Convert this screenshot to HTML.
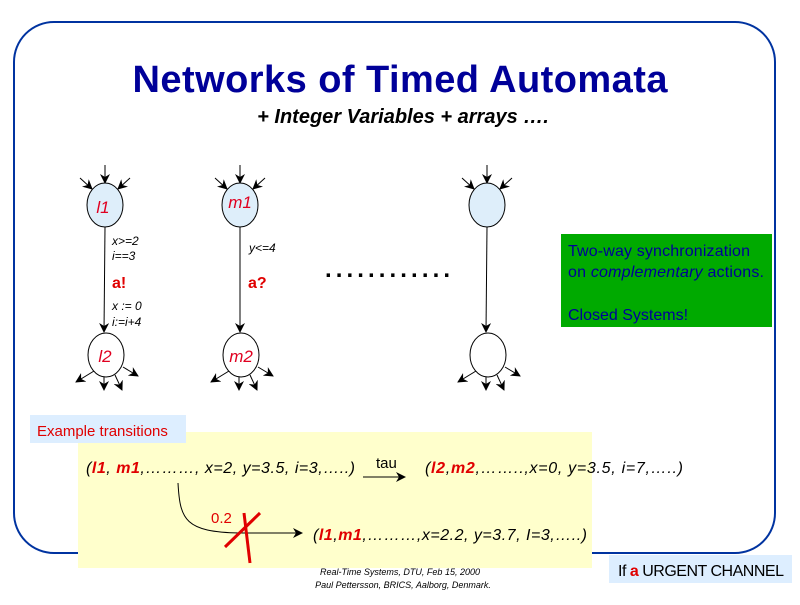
<!DOCTYPE html>
<html><head><meta charset="utf-8"><style>
body{margin:0;background:#fff;width:800px;height:600px;overflow:hidden;font-family:"Liberation Sans",sans-serif}
</style></head><body>
<svg width="800" height="600" xmlns="http://www.w3.org/2000/svg" font-family="Liberation Sans, sans-serif">
<defs>
<marker id="a" markerWidth="10" markerHeight="10" refX="9" refY="5" orient="auto" markerUnits="userSpaceOnUse"><path d="M0,0 L10,5 L0,10 L3,5z" fill="#000"/></marker>
</defs>
<rect x="14" y="22" width="761" height="531" rx="40" fill="none" stroke="#0033a0" stroke-width="2"/>
<text x="400" y="92" text-anchor="middle" font-size="38" font-weight="bold" fill="#000099" textLength="535">Networks of Timed Automata</text>
<text x="403" y="123" text-anchor="middle" font-size="20" font-weight="bold" font-style="italic" fill="#000">+ Integer Variables + arrays ….</text>
<g stroke="#000" stroke-width="1" marker-end="url(#a)" fill="none">
<line x1="105" y1="165" x2="105" y2="183"/><line x1="80" y1="178" x2="92" y2="189"/><line x1="130" y1="178" x2="118" y2="189"/>
<line x1="240" y1="165" x2="240" y2="183"/><line x1="215" y1="178" x2="227" y2="189"/><line x1="265" y1="178" x2="253" y2="189"/>
<line x1="487" y1="165" x2="487" y2="183"/><line x1="462" y1="178" x2="474" y2="189"/><line x1="512" y1="178" x2="500" y2="189"/>
<line x1="105" y1="227" x2="104" y2="332"/><line x1="240" y1="227" x2="240" y2="332"/><line x1="487" y1="227" x2="486" y2="332"/>
<line x1="94" y1="371" x2="76" y2="382"/><line x1="104" y1="377" x2="104" y2="390"/><line x1="115" y1="375" x2="122" y2="390"/><line x1="123" y1="367" x2="138" y2="376"/>
<line x1="229" y1="371" x2="211" y2="382"/><line x1="239" y1="377" x2="239" y2="390"/><line x1="250" y1="375" x2="257" y2="390"/><line x1="258" y1="367" x2="273" y2="376"/>
<line x1="476" y1="371" x2="458" y2="382"/><line x1="486" y1="377" x2="486" y2="390"/><line x1="497" y1="375" x2="504" y2="390"/><line x1="505" y1="367" x2="520" y2="376"/>
</g>
<g stroke="#000" stroke-width="1">
<ellipse cx="105" cy="205" rx="18" ry="22" fill="#deeefa"/>
<ellipse cx="106" cy="355" rx="18" ry="22" fill="#fff"/>
<ellipse cx="240" cy="205" rx="18" ry="22" fill="#deeefa"/>
<ellipse cx="241" cy="355" rx="18" ry="22" fill="#fff"/>
<ellipse cx="487" cy="205" rx="18" ry="22" fill="#deeefa"/>
<ellipse cx="488" cy="355" rx="18" ry="22" fill="#fff"/>
</g>
<g font-style="italic" fill="#e00020" font-size="17">
<text x="103" y="213" text-anchor="middle">l1</text>
<text x="105" y="362" text-anchor="middle">l2</text>
<text x="240" y="208" text-anchor="middle">m1</text>
<text x="241" y="362" text-anchor="middle">m2</text>
</g>
<g font-style="italic" font-size="12" fill="#000">
<text x="112" y="245">x&gt;=2</text><text x="112" y="260">i==3</text>
<text x="112" y="310">x := 0</text><text x="112" y="326">i:=i+4</text>
<text x="249" y="252">y&lt;=4</text>
</g>
<text x="112" y="288" font-size="16" font-weight="bold" fill="#e00000">a!</text>
<text x="248" y="288" font-size="16" font-weight="bold" fill="#e00000">a?</text>
<text x="325" y="277" font-size="24" font-weight="bold" fill="#000" textLength="125">............</text>
<rect x="561" y="234" width="211" height="93" fill="#00aa00"/>
<g font-size="16" fill="#000099">
<text x="568" y="256" textLength="182">Two-way synchronization</text>
<text x="568" y="277" textLength="196">on <tspan font-style="italic">complementary</tspan> actions.</text>
<text x="568" y="320">Closed Systems!</text>
</g>
<rect x="78" y="432" width="514" height="136" fill="#ffffcc"/>
<rect x="30" y="415" width="156" height="28" fill="#ddeeff"/>
<text x="37" y="436" font-size="15" fill="#e00000">Example transitions</text>
<g font-size="16" font-style="italic" fill="#000">
<text x="86" y="473" textLength="269">(<tspan fill="#e00000" font-weight="bold">l1</tspan>, <tspan fill="#e00000" font-weight="bold">m1</tspan>,………, x=2, y=3.5, i=3,…..)</text>
<text x="425" y="473" textLength="258">(<tspan fill="#e00000" font-weight="bold">l2</tspan>,<tspan fill="#e00000" font-weight="bold">m2</tspan>,……..,x=0,  y=3.5, i=7,…..)</text>
<text x="313" y="540" textLength="274">(<tspan fill="#e00000" font-weight="bold">l1</tspan>,<tspan fill="#e00000" font-weight="bold">m1</tspan>,………,x=2.2, y=3.7, I=3,…..)</text>
</g>
<text x="376" y="468" font-size="15" fill="#000">tau</text>
<line x1="363" y1="477" x2="405" y2="477" stroke="#000" marker-end="url(#a)"/>
<path d="M178,483 C180,520 185,532 240,533 L302,533" stroke="#000" fill="none" marker-end="url(#a)"/>
<text x="211" y="523" font-size="15" fill="#e00000">0.2</text>
<line x1="225" y1="547" x2="260" y2="513" stroke="#e00000" stroke-width="3"/>
<line x1="244" y1="513" x2="250" y2="563" stroke="#e00000" stroke-width="3"/>
<text x="400" y="575" text-anchor="middle" font-size="9" font-style="italic" fill="#000">Real-Time Systems, DTU, Feb 15, 2000</text>
<text x="403" y="588" text-anchor="middle" font-size="9" font-style="italic" fill="#000">Paul Pettersson, BRICS, Aalborg, Denmark.</text>
<rect x="609" y="555" width="183" height="28" fill="#ddeeff"/>
<text x="618" y="576" font-size="16" fill="#000" textLength="166">If <tspan fill="#e00000" font-weight="bold">a</tspan> URGENT CHANNEL</text>
</svg>
</body></html>
